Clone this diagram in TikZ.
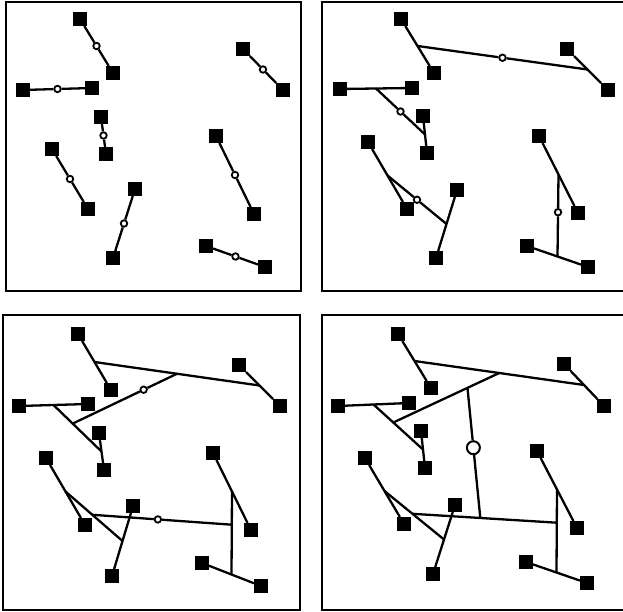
\documentclass[tikz,border=0pt]{standalone}
\usetikzlibrary{calc}
\begin{document}
\begin{tikzpicture}[x=1pt,y=-1pt,
  sq/.style={fill=black,draw=none,minimum size=14pt,inner sep=0pt,outer sep=0pt},
  dot/.style={circle,draw=black,fill=white,line width=1.8pt,minimum size=6.5pt,inner sep=0pt},
  bigdot/.style={circle,draw=black,fill=white,line width=2pt,minimum size=13pt,inner sep=0pt},
  link/.style={line width=2.3pt},
  frame/.style={line width=2.6pt}]
\useasboundingbox (0,0) rectangle (623,612);
\fill[white] (0,0) rectangle (623,612);
% frames
\draw[frame] (6,2) rectangle (301,291);
\draw[frame] (322,2) rectangle (630,291);
\draw[frame] (3,315) rectangle (300,610);
\draw[frame] (322,315) rectangle (630,610);
% ---------- panel 1 ----------
\foreach \n/\x/\y in {a1/80/19,a2/113/73,b1/23/90,b2/92/88,c1/243/49,c2/283/90,
  d1/101/117,d2/106/154,e1/52/149,e2/88/209,f1/135/189,f2/113/258,
  g1/216/136,g2/254/214,h1/206/246,h2/265/267}
  \node[sq] (p1\n) at (\x,\y) {};
\foreach \n in {a,b,c,d,e,f,g,h}{
  \node[dot] (p1m\n) at ($(p1\n1)!0.5!(p1\n2)$) {};
  \draw[link] (p1\n1) -- (p1m\n) -- (p1\n2);
}
% ---------- panel 2 ----------
\foreach \n/\x/\y in {a1/401/19,a2/434/73,b1/340/89,b2/412/88,c1/567/49,c2/608/90,
  d1/423/116,d2/427/153,e1/368/142,e2/407/209,f1/457/190,f2/436/258,
  g1/539/136,g2/578/213,h1/527/246,h2/588/267}
  \node[sq] (p2\n) at (\x,\y) {};
\foreach \n in {a,b,c,d,e,f,g,h}{
  \coordinate (p2j\n) at ($(p2\n1)!0.5!(p2\n2)$);
  \draw[link] (p2\n1) -- (p2\n2);
}
\foreach \u/\v/\t in {a/c/0.5,b/d/0.5,e/f/0.5,g/h/0.46}{
  \node[dot] (p2m\u\v) at ($(p2j\u)!\t!(p2j\v)$) {};
  \draw[link] (p2j\u) -- (p2m\u\v) -- (p2j\v);
}
% ---------- panel 3 ----------
\foreach \n/\x/\y in {a1/78/334,a2/111/390,b1/19/406,b2/88/404,c1/239/365,c2/280/406,
  d1/99/433,d2/104/470,e1/46/458,e2/85/525,f1/133/506,f2/112/576,
  g1/213/453,g2/251/530,h1/202/563,h2/261/586}
  \node[sq] (p3\n) at (\x,\y) {};
\foreach \n in {a,b,c,d,e,f,g,h}{
  \coordinate (p3j\n) at ($(p3\n1)!0.5!(p3\n2)$);
  \draw[link] (p3\n1) -- (p3\n2);
}
\foreach \u/\v/\t in {a/c/0.5,b/d/0.4,e/f/0.47,g/h/0.4}{
  \coordinate (p3k\u\v) at ($(p3j\u)!\t!(p3j\v)$);
  \draw[link] (p3j\u) -- (p3j\v);
}
\node[dot] (p3mu) at ($(p3kbd)!0.68!(p3kac)$) {};
\draw[link] (p3kbd) -- (p3mu) -- (p3kac);
\node[dot] (p3ml) at ($(p3kef)!0.47!(p3kgh)$) {};
\draw[link] (p3kef) -- (p3ml) -- (p3kgh);
% ---------- panel 4 ----------
\foreach \n/\x/\y in {a1/398/334,a2/431/388,b1/338/406,b2/409/403,c1/564/364,c2/604/406,
  d1/421/431,d2/425/468,e1/365/458,e2/404/524,f1/455/505,f2/433/574,
  g1/537/451,g2/577/528,h1/526/562,h2/587/583}
  \node[sq] (p4\n) at (\x,\y) {};
\foreach \n in {a,b,c,d,e,f,g,h}{
  \coordinate (p4j\n) at ($(p4\n1)!0.5!(p4\n2)$);
  \draw[link] (p4\n1) -- (p4\n2);
}
\foreach \u/\v/\t in {a/c/0.5,b/d/0.4,e/f/0.47,g/h/0.4}{
  \coordinate (p4k\u\v) at ($(p4j\u)!\t!(p4j\v)$);
  \draw[link] (p4j\u) -- (p4j\v);
}
\coordinate (p4lu) at ($(p4kbd)!0.7!(p4kac)$);
\coordinate (p4ll) at ($(p4kef)!0.47!(p4kgh)$);
\draw[link] (p4kbd) -- (p4kac);
\draw[link] (p4kef) -- (p4kgh);
\node[bigdot] (p4m) at ($(p4lu)!0.46!(p4ll)$) {};
\draw[link] (p4lu) -- (p4m) -- (p4ll);
\end{tikzpicture}
\end{document}
